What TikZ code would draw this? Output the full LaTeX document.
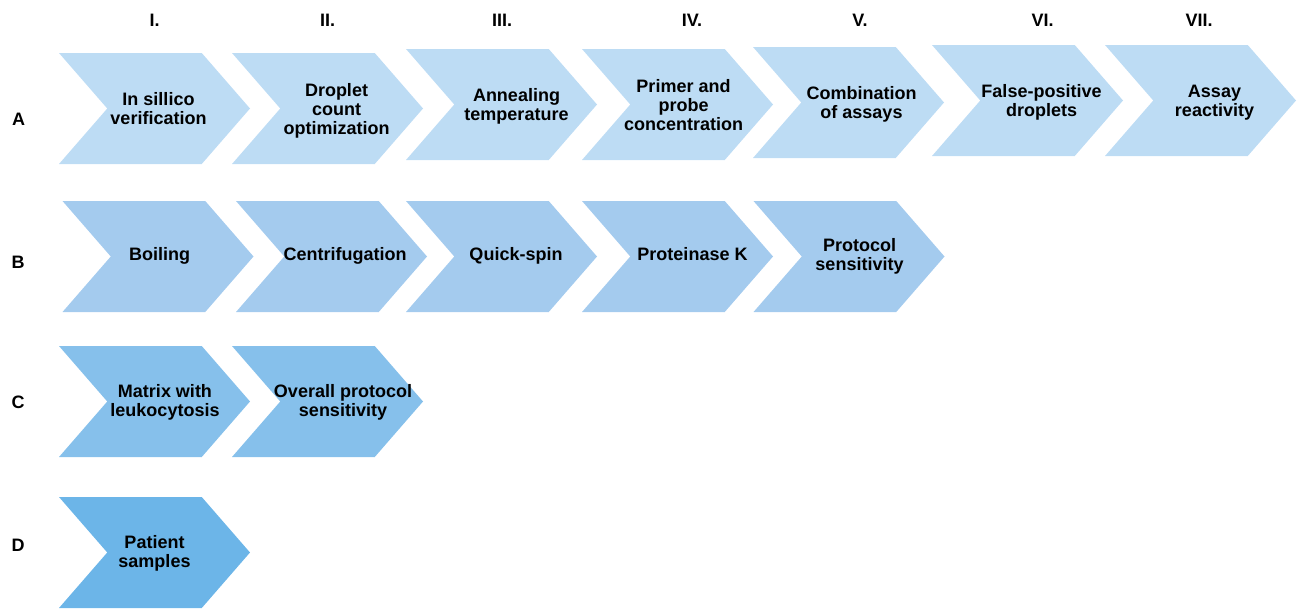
\documentclass[tikz,border=0pt]{standalone}
\usepackage{fontspec}
\setmainfont{Liberation Sans}
\usepackage{tikz}
\usetikzlibrary{shapes.symbols}
\definecolor{stageA}{HTML}{BDDCF4}
\definecolor{stageB}{HTML}{A4CBEE}
\definecolor{stageC}{HTML}{86C0EB}
\definecolor{stageD}{HTML}{6CB5E8}
\newcommand{\steplabel}[3][-3pt]{\makebox[0pt]{\hspace*{#2}\raisebox{#1}[\height][\depth]{\begin{tabular}{@{}c@{}}#3\end{tabular}}}}

\begin{document}
\begin{tikzpicture}[
    x=1pt, y=-1pt,
    every node/.style={ font=\fontsize{18}{19}\selectfont\bfseries,
                        inner sep=0pt},
    chevron/.style={ signal,
                     signal to=east,
                     signal from=west,
                     signal pointer angle=98,
                     minimum width=191pt,
                     minimum height=111pt,
                     draw=none},
    rowA/.style={chevron, fill=stageA},
    rowB/.style={chevron, fill=stageB},
    rowC/.style={chevron, fill=stageC},
    rowD/.style={chevron, fill=stageD}]

    \useasboundingbox (0,0) rectangle (1298,608);

    % stage numbers
    \node (n1) at (154.5, 20) {I.};
    \node (n2) at (327.5, 20) {II.};
    \node (n3) at (502, 20) {III.};
    \node (n4) at (692, 20) {IV.};
    \node (n5) at (860, 20) {V.};
    \node (n6) at (1042.5, 20) {VI.};
    \node (n7) at (1199, 20) {VII.};

    % row letters
    \node (lA) at (18.5, 119) {A};
    \node (lB) at (18, 262) {B};
    \node (lC) at (18, 402) {C};
    \node (lD) at (18, 545) {D};

    % row A
    \node[rowA] (a1) at (154.5, 108.5) {\steplabel{8pt}{In sillico\\verification}};
    \node[rowA] (a2) at (327.5, 108.5) {\steplabel{18pt}{Droplet\\count\\optimization}};
    \node[rowA] (a3) at (501.5, 104.5) {\steplabel{30pt}{Annealing\\temperature}};
    \node[rowA] (a4) at (677.5, 104.5) {\steplabel{12pt}{Primer and\\probe\\concentration}};
    \node[rowA] (a5) at (848.5, 102.5) {\steplabel{26pt}{Combination\\of assays}};
    \node[rowA] (a6) at (1027.5, 100.5) {\steplabel{28pt}{False-positive\\droplets}};
    \node[rowA] (a7) at (1200.5, 100.5) {\steplabel{28pt}{Assay\\reactivity}};

    % row B
    \node[rowB] (b1) at (158, 256.5) {\steplabel[0pt]{3pt}{Boiling}};
    \node[rowB] (b2) at (331.5, 256.5) {\steplabel[0pt]{27pt}{Centrifugation}};
    \node[rowB] (b3) at (501.5, 256.5) {\steplabel[0pt]{29pt}{Quick-spin}};
    \node[rowB] (b4) at (677.5, 256.5) {\steplabel[0pt]{30pt}{Proteinase K}};
    \node[rowB] (b5) at (849, 256.5) {\steplabel[-1pt]{21pt}{Protocol\\sensitivity}};

    % row C
    \node[rowC] (c1) at (154.5, 401.5) {\steplabel[-2pt]{21pt}{Matrix with\\leukocytosis}};
    \node[rowC] (c2) at (327.5, 401.5) {\steplabel[-2pt]{31pt}{Overall protocol\\sensitivity}};

    % row D
    \node[rowD] (d1) at (154.5, 552.5) {\steplabel[-2pt]{0pt}{Patient\\samples}};

\end{tikzpicture}
\end{document}
